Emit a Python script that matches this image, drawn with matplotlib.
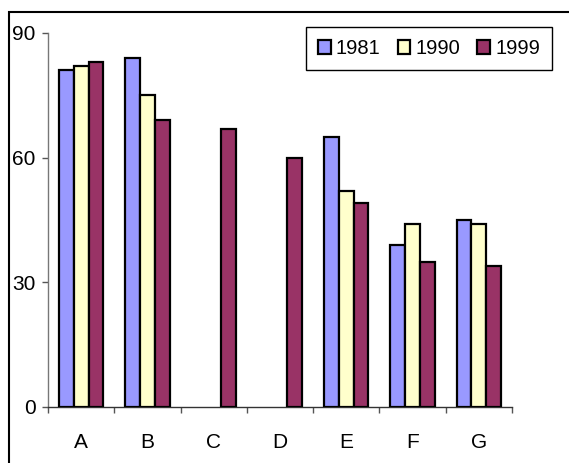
import matplotlib
matplotlib.use("Agg")
import matplotlib.pyplot as plt
import numpy as np
from matplotlib.patches import Rectangle

categories = ["A", "B", "C", "D", "E", "F", "G"]
series_names = ["1981", "1990", "1999"]
v1981 = [81, 84, 0, 0, 65, 39, 45]
v1990 = [82, 75, 0, 0, 52, 44, 44]
v1999 = [83, 69, 67, 60, 49, 35, 34]
colors = ["#9999FF", "#FFFFCC", "#993366"]
yticks = [0, 30, 60, 90]

plt.rcParams['font.family'] = ['Liberation Sans', 'DejaVu Sans']

fig = plt.figure(figsize=(5.69, 4.63), dpi=100)
ax = fig.add_axes([48 / 569, 1 - 407 / 463, 464 / 569, 374 / 463])

x = np.arange(len(categories))
w = 0.222
for i, (vals, name, c) in enumerate(zip([v1981, v1990, v1999], series_names, colors)):
    xs = [xi + (i - 1) * w for xi, v in zip(x, vals) if v > 0]
    ys = [v for v in vals if v > 0]
    ax.bar(xs, ys, width=w, color=c, edgecolor="black", linewidth=1.6,
           label=name, zorder=3)

ax.set_xlim(-0.5, len(categories) - 0.5)
ax.set_ylim(0, 90)
ax.set_yticks(yticks)
ax.set_yticklabels([str(t) for t in yticks], fontsize=15)
ax.set_xticks(x)
ax.set_xticklabels(categories, fontsize=15)
ax.set_xticks(np.arange(-0.5, len(categories)), minor=True)
ax.tick_params(axis="x", which="major", length=0, pad=19)
ax.tick_params(axis="x", which="minor", length=4, width=1, color="#555555", direction="out")
ax.tick_params(axis="y", length=4, width=1, color="#555555", direction="out", pad=5)

for s in ["top", "right"]:
    ax.spines[s].set_visible(False)
ax.spines["left"].set_color("#777777")
ax.spines["bottom"].set_color("#333333")
ax.spines["left"].set_linewidth(1)
ax.spines["bottom"].set_linewidth(1)

leg = ax.legend(loc="upper right", bbox_to_anchor=((552 - 48) / 464, (407 - 27) / 374),
                borderaxespad=0, ncol=3, fontsize=14.5,
                frameon=True, fancybox=False, edgecolor="black", framealpha=1,
                handlelength=0.62, handleheight=0.62, handletextpad=0.26,
                columnspacing=0.85, borderpad=0.6)
leg.get_frame().set_linewidth(1)

fig.patches.append(Rectangle((9 / 569, -0.05), 1.2, 1 - 12 / 463 + 0.05,
                             transform=fig.transFigure, fill=False,
                             edgecolor="black", linewidth=1.5, zorder=0))

fig.savefig("out.png", dpi=100)
